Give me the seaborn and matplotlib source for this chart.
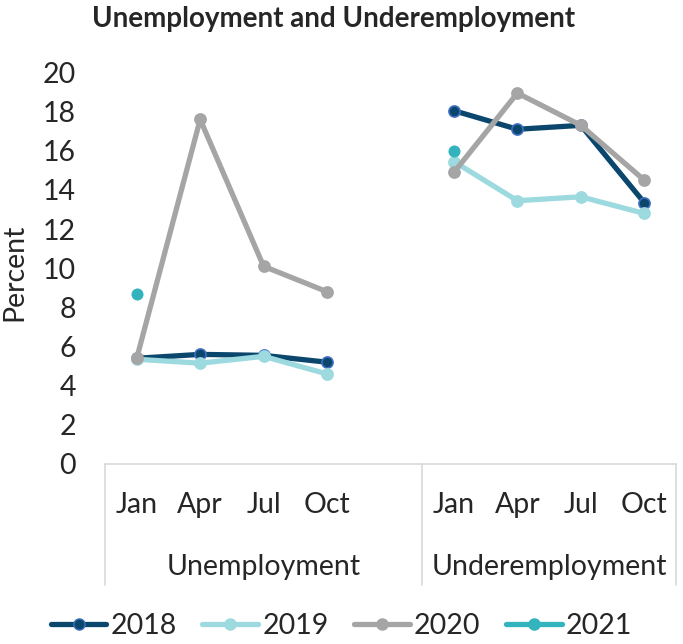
import matplotlib
matplotlib.use("Agg")
import matplotlib.pyplot as plt
import matplotlib.transforms as mtransforms
from matplotlib.lines import Line2D
import seaborn as sns
import pandas as pd

# Quarterly rates (percent)
months = ["Jan", "Apr", "Jul", "Oct"]
groups = ["Unemployment", "Underemployment"]
years = ["2018", "2019", "2020", "2021"]

unemp_2018 = [5.4, 5.6, 5.55, 5.2]
unemp_2019 = [5.35, 5.15, 5.5, 4.6]
unemp_2020 = [5.4, 17.6, 10.1, 8.8]
unemp_2021 = [8.7]

under_2018 = [18.05, 17.1, 17.3, 13.35]
under_2019 = [15.45, 13.45, 13.65, 12.8]
under_2020 = [14.9, 18.95, 17.3, 14.5]
under_2021 = [16.0]

series = {
    "2018": {"Unemployment": unemp_2018, "Underemployment": under_2018},
    "2019": {"Unemployment": unemp_2019, "Underemployment": under_2019},
    "2020": {"Unemployment": unemp_2020, "Underemployment": under_2020},
    "2021": {"Unemployment": unemp_2021, "Underemployment": under_2021},
}

colors = {"2018": "#0B476D", "2019": "#9CDAE0", "2020": "#A5A5A5", "2021": "#32B3BD"}
edges = {"2018": "#3F6FC0", "2019": "#9CDAE0", "2020": "#A5A5A5", "2021": "#32B3BD"}

# Category slots: 4 months + a spacer slot for the first group, 4 months for the second
group_offset = {"Unemployment": 0, "Underemployment": 5}
n_slots = 9

rows = []
for yr, by_group in series.items():
    for g, vals in by_group.items():
        for i, v in enumerate(vals):
            rows.append({"year": yr, "group": g, "month": months[i],
                         "pos": group_offset[g] + i, "value": v})
df = pd.DataFrame(rows)

sns.set_theme(style="white")
plt.rcParams["font.family"] = ["Lato", "DejaVu Sans"]

FS = 20.5

fig = plt.figure(figsize=(6.83, 6.44), dpi=100)
ax = fig.add_axes([105 / 683, 1 - 464 / 644, 571 / 683, (464 - 72.5) / 644])

for yr in years:
    for g in groups:
        sub = df[(df.year == yr) & (df.group == g)]
        if len(sub) > 1:
            sns.lineplot(data=sub, x="pos", y="value", ax=ax, color=colors[yr],
                         linewidth=3.8, marker="o", markersize=8,
                         markerfacecolor=colors[yr], markeredgecolor=edges[yr],
                         markeredgewidth=1.2, legend=False, sort=False)
        else:
            sns.scatterplot(data=sub, x="pos", y="value", ax=ax, color=colors[yr],
                            s=75, edgecolor=edges[yr], linewidth=0, legend=False,
                            zorder=3)

ax.set_xlim(-0.5, n_slots - 0.5)
ax.set_ylim(0, 20)
ax.set_yticks(range(0, 21, 2))
ax.tick_params(axis="y", length=0, labelsize=FS, pad=21)
ax.set_xlabel("")
ax.set_ylabel("Percent", fontsize=FS)
ax.yaxis.set_label_coords(-0.136, 0.49)

tick_pos = [group_offset[g] + i for g in groups for i in range(len(months))]
ax.set_xticks(tick_pos)
ax.set_xticklabels(months * 2)
ax.tick_params(axis="x", length=0, labelsize=FS, pad=20)

for side in ["left", "top", "right"]:
    ax.spines[side].set_visible(False)
ax.spines["bottom"].set_color("#D9D9D9")
ax.spines["bottom"].set_linewidth(1.2)

# Category-axis dividers and group labels
trans = mtransforms.blended_transform_factory(ax.transData, ax.transAxes)
drop = -(585 - 464) / (464 - 72.5)
for xd in [-0.5, 4.5, n_slots - 0.5]:
    ax.plot([xd, xd], [0, drop], transform=trans, color="#D9D9D9",
            linewidth=1.2, clip_on=False)
group_y = -(567 - 464) / (464 - 72.5)
ax.text(2.0, group_y, "Unemployment", transform=trans, ha="center",
        va="center", fontsize=FS)
ax.text(6.5, group_y, "Underemployment", transform=trans, ha="center",
        va="center", fontsize=FS)

fig.text(334 / 683, 1 - 27 / 644, "Unemployment and Underemployment",
         ha="center", va="baseline", fontsize=20, fontweight="bold")

handles = [Line2D([0], [0], color=colors[yr], linewidth=3.8, marker="o",
                  markersize=8, markerfacecolor=colors[yr],
                  markeredgecolor=edges[yr]) for yr in years]
fig.legend(handles, years, loc="center", bbox_to_anchor=(0.5, 1 - 626 / 644),
           ncol=4, frameon=False, fontsize=FS, handlelength=1.95,
           columnspacing=0.9, handletextpad=0.15)

fig.savefig("out.png", dpi=100, facecolor="white")
